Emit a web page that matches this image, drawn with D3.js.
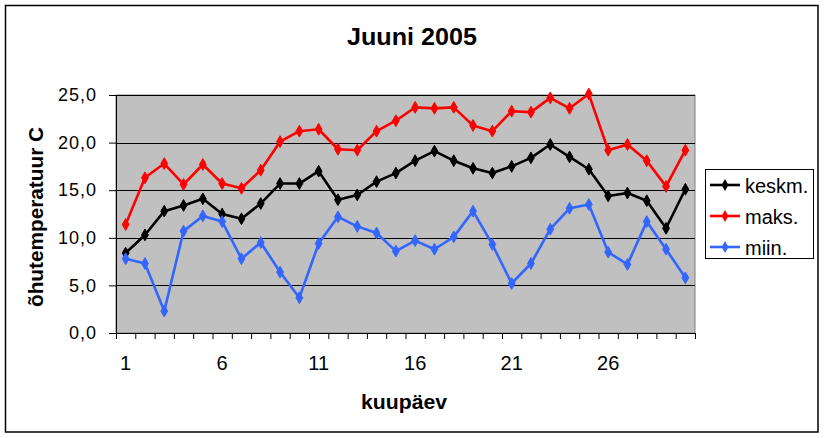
<!DOCTYPE html>
<html><head><meta charset="utf-8">
<script src="https://cdn.jsdelivr.net/npm/d3@7"></script>
<style>
html,body{margin:0;padding:0;background:#fff;}
svg{display:block;font-family:"Liberation Sans",Arial,sans-serif;}
</style></head>
<body>
<svg id="chart" width="825" height="438"></svg>
<script>
const days = d3.range(1, 31);
const keskm = [8.4,10.3,12.8,13.4,14.1,12.5,12.0,13.6,15.7,15.7,17.0,14.0,14.5,15.9,16.8,18.1,19.1,18.1,17.3,16.8,17.5,18.4,19.8,18.5,17.2,14.4,14.7,13.9,11.0,15.1];
const maks  = [11.4,16.3,17.8,15.6,17.7,15.7,15.2,17.1,20.1,21.2,21.4,19.3,19.2,21.2,22.3,23.7,23.6,23.7,21.8,21.2,23.3,23.2,24.7,23.6,25.1,19.2,19.8,18.1,15.4,19.2];
const miin  = [7.8,7.3,2.3,10.7,12.3,11.7,7.8,9.5,6.4,3.7,9.4,12.2,11.2,10.5,8.6,9.7,8.8,10.1,12.8,9.3,5.2,7.3,10.9,13.1,13.5,8.5,7.2,11.7,8.8,5.8];
const seriesNames = ["keskm.","maks.","miin."];
const seriesColors = ["#000000","#ff0000","#3366ff"];
const yTicks = [0,5,10,15,20,25];
const xLabelDays = [1,6,11,16,21,26];
const titleText = "Juuni 2005";
const yTitle = "õhutemperatuur C";
const xTitle = "kuupäev";

const series = [keskm, maks, miin];
const svg = d3.select("#chart");
const L = 116, R = 695, T = 95, B = 333;

// outer border
svg.append("rect").attr("x",5.5).attr("y",5.5).attr("width",812.5).attr("height",426.5)
  .attr("fill","#fff").attr("stroke","#000").attr("stroke-width",1.5);

const x = d3.scaleBand().domain(days).range([L,R]).padding(0);
const xEdge = d3.scaleLinear().domain([0,30]).range([L,R]);
const y = d3.scaleLinear().domain([0,25]).range([B,T]);
const cx = d => x(d) + x.bandwidth()/2;

// plot area
svg.append("rect").attr("x",L).attr("y",T).attr("width",R-L).attr("height",B-T)
  .attr("fill","#c0c0c0").attr("stroke","#808080").attr("stroke-width",1);

// gridlines
svg.append("g").selectAll("line").data(yTicks.filter(v=>v>0)).join("line")
  .attr("x1",L).attr("x2",R).attr("y1",d=>Math.round(y(d))+0.5).attr("y2",d=>Math.round(y(d))+0.5)
  .attr("stroke","#000").attr("stroke-width",1);

// y axis
const fmt = v => d3.format(".1f")(v).replace(".", ",");
const yAx = svg.append("g").attr("transform",`translate(${L},0)`)
  .call(d3.axisLeft(y).tickValues(yTicks).tickFormat(fmt).tickSize(7).tickPadding(12));
yAx.select(".domain").attr("stroke","#000");
yAx.selectAll(".tick line").attr("stroke","#000");
yAx.selectAll("text").attr("font-size",18).attr("letter-spacing","1px").attr("fill","#000")
  .attr("font-family","Liberation Sans, Arial, sans-serif");

// x axis boundary ticks
const xAx = svg.append("g").attr("transform",`translate(0,${B})`)
  .call(d3.axisBottom(xEdge).tickValues(d3.range(0,31)).tickFormat("").tickSize(6));
xAx.select(".domain").attr("stroke","#000");
xAx.selectAll(".tick line").attr("stroke","#000");

// x labels
const xLab = svg.append("g").attr("transform",`translate(0,${B})`)
  .call(d3.axisBottom(x).tickValues(xLabelDays).tickSize(0).tickPadding(23));
xLab.select(".domain").remove();
xLab.selectAll("text").attr("font-size",20).attr("fill","#000")
  .attr("font-family","Liberation Sans, Arial, sans-serif");

// lines and markers
const line = d3.line().x((d,i)=>cx(days[i])).y(d=>y(d));
const diamond = d3.symbol().type(d3.symbolDiamond).size(40);
series.forEach((s,k)=>{
  svg.append("path").datum(s).attr("d",line).attr("fill","none")
    .attr("stroke",seriesColors[k]).attr("stroke-width",2.6).attr("stroke-linejoin","round");
  svg.append("g").selectAll("path").data(s).join("path")
    .attr("d",diamond).attr("transform",(d,i)=>`translate(${cx(days[i])},${y(d)})`)
    .attr("fill",seriesColors[k]).attr("stroke",seriesColors[k]).attr("stroke-width",1);
});

// titles
svg.append("text").attr("x",412).attr("y",45).attr("text-anchor","middle")
  .attr("font-size",23).attr("font-weight","bold")
  .attr("textLength",130).attr("lengthAdjust","spacingAndGlyphs").text(titleText);
svg.append("text").attr("x",404).attr("y",409).attr("text-anchor","middle")
  .attr("font-size",20.5).attr("font-weight","bold")
  .attr("textLength",86).attr("lengthAdjust","spacingAndGlyphs").text(xTitle);
svg.append("text").attr("transform","translate(43,217) rotate(-90)").attr("text-anchor","middle")
  .attr("font-size",20.5).attr("font-weight","bold")
  .attr("textLength",180).attr("lengthAdjust","spacingAndGlyphs").text(yTitle);

// legend
const lg = svg.append("g");
lg.append("rect").attr("x",705.5).attr("y",169.5).attr("width",108).attr("height",89)
  .attr("fill","#fff").attr("stroke","#000").attr("stroke-width",1);
seriesNames.forEach((n,k)=>{
  const yy = 185 + k*31;
  lg.append("line").attr("x1",710).attr("x2",740).attr("y1",yy).attr("y2",yy)
    .attr("stroke",seriesColors[k]).attr("stroke-width",2.6);
  lg.append("path").attr("d",diamond).attr("transform",`translate(725,${yy})`)
    .attr("fill",seriesColors[k]);
  lg.append("text").attr("x",745).attr("y",yy+7.5).attr("font-size",20).text(n);
});
</script>
</body></html>
